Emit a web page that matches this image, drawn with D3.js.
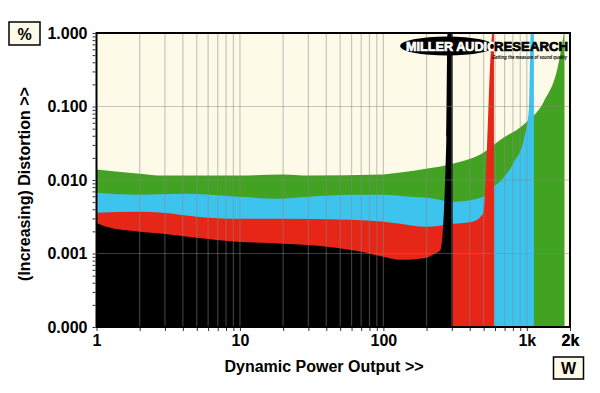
<!DOCTYPE html>
<html>
<head>
<meta charset="utf-8">
<script src="https://cdn.jsdelivr.net/npm/d3@7"></script>
<style>
  body { margin: 0; background: #fff; }
  svg { display: block; font-family: "Liberation Sans", Arial, sans-serif; font-weight: bold; }
</style>
</head>
<body>
<svg id="chart"></svg>
<script>
// distortion vs dynamic power, one filled band per load

const greenW = [1, 2, 2.9, 9.8, 20, 30, 100, 131, 203, 309, 500, 658, 953, 1315, 1648, 1786, 1818, 1830]
const greenV = [0.0139, 0.0122, 0.0115, 0.0115, 0.0119, 0.0115, 0.0119, 0.0126, 0.0143, 0.0168, 0.0237, 0.0356, 0.057, 0.117, 0.353, 0.82, 1.0, 1.0]

const cyanW = [1, 2, 4, 9.8, 18, 30, 59, 100, 154, 203, 309, 500, 588, 658, 811, 953, 1033, 1066, 1120]
const cyanV = [0.00673, 0.00632, 0.00652, 0.00594, 0.00557, 0.00594, 0.00632, 0.00632, 0.00594, 0.00575, 0.00507, 0.00594, 0.0081, 0.0098, 0.0173, 0.0356, 0.091, 1.0, 1.0]

const redW = [1, 2, 2.9, 5, 8.5, 20, 59, 100, 131, 197, 309, 419, 500, 578, 590]
const redV = [0.00359, 0.0037, 0.00359, 0.00316, 0.00297, 0.00297, 0.00288, 0.00271, 0.00254, 0.00231, 0.00254, 0.00271, 0.00359, 1.0, 1.0]

const blackW = [1, 1.17, 2, 2.9, 5, 9.5, 20, 42, 72, 100, 131, 197, 224, 250, 275, 280, 304]
const blackV = [0.00263, 0.00231, 0.00198, 0.00186, 0.00164, 0.00145, 0.00136, 0.00123, 0.00105, 0.0009, 0.00082, 0.00087, 0.00098, 0.00112, 0.0385, 1.0, 1.0]

const seriesColors = ["#41a321", "#3cc4ef", "#e62617", "#000000"]

const yMajor = [0.0001, 0.001, 0.01, 0.1, 1]
const yLabels = ["0.000", "0.001", "0.010", "0.100", "1.000"]
const xMajor = [1, 10, 100, 1000, 2000]
const xLabels = ["1", "10", "100", "1k", "2k"]

const width = 600, height = 393
const margin = {top: 33, right: 30, bottom: 66, left: 96}

const series = [
  {name: "green", w: greenW, v: greenV},
  {name: "cyan", w: cyanW, v: cyanV},
  {name: "red", w: redW, v: redV},
  {name: "black", w: blackW, v: blackV}
].map((s, i) => ({name: s.name, color: seriesColors[i], pts: s.w.map((w, j) => [w, s.v[j]])}))

const x = d3.scaleLog().domain([1, 2000]).range([margin.left + 0.5, width - margin.right])
const y = d3.scaleLog().domain([0.0001, 1]).range([height - margin.bottom, margin.top])

// minor positions 2..9 in each decade
let xTicks = []
;[1, 10, 100, 1000].forEach(d => { for (let k = 1; k <= 9; k++) if (d * k <= 2000) xTicks.push(d * k) })
xTicks.push(2000)
let yTicks = []
;[0.0001, 0.001, 0.01, 0.1].forEach(d => { for (let k = 1; k <= 9; k++) yTicks.push(d * k) })
yTicks.push(1)

const svg = d3.select("#chart").attr("width", width).attr("height", height)

svg.append("defs").append("clipPath").attr("id", "plotclip")
  .append("rect")
  .attr("x", x.range()[0]).attr("y", y.range()[1])
  .attr("width", x.range()[1] - x.range()[0])
  .attr("height", y.range()[0] - y.range()[1])

svg.append("rect")
  .attr("x", x.range()[0]).attr("y", y.range()[1])
  .attr("width", x.range()[1] - x.range()[0])
  .attr("height", y.range()[0] - y.range()[1])
  .attr("fill", "#fdfae8")

const area = d3.area()
  .curve(d3.curveMonotoneX)
  .x(d => x(d[0]))
  .y0(y(0.0001))
  .y1(d => y(d[1]))

svg.append("g")
  .attr("clip-path", "url(#plotclip)")
  .selectAll("path")
  .data(series)
  .join("path")
    .attr("fill", d => d.color)
    .attr("d", d => area(d.pts))

// grid on top of the bands, see-through
const grid = svg.append("g").attr("stroke", "rgba(135,135,135,0.45)").attr("stroke-width", 1.2)
grid.selectAll("line.vx")
  .data(xTicks.filter(d => d > 1 && d < 2000))
  .join("line")
    .attr("x1", d => x(d)).attr("x2", d => x(d))
    .attr("y1", y.range()[1]).attr("y2", y.range()[0])
grid.selectAll("line.hy")
  .data(yMajor.slice(1, -1))
  .join("line")
    .attr("x1", x.range()[0]).attr("x2", x.range()[1])
    .attr("y1", d => y(d)).attr("y2", d => y(d))

// logo
const logo = svg.append("g").attr("font-weight", 900)
logo.append("ellipse").attr("cx", 447).attr("cy", 46).attr("rx", 47).attr("ry", 9.5).attr("fill", "#000")
logo.append("text").attr("x", 406).attr("y", 51).attr("fill", "#fff").attr("font-size", 13)
  .attr("stroke", "#fff").attr("stroke-width", 0.7)
  .attr("textLength", 91).attr("lengthAdjust", "spacingAndGlyphs").text("MILLER AUDIO")
logo.append("text").attr("x", 494).attr("y", 51).attr("fill", "#000").attr("font-size", 13)
  .attr("stroke", "#000").attr("stroke-width", 0.7)
  .attr("textLength", 74).attr("lengthAdjust", "spacingAndGlyphs").text("RESEARCH")
logo.append("text").attr("x", 492).attr("y", 58.5).attr("fill", "#000").attr("font-size", 6)
  .attr("font-style", "italic")
  .attr("textLength", 75).attr("lengthAdjust", "spacingAndGlyphs").text("Getting the measure of sound quality")

// frame
svg.append("rect")
  .attr("x", x.range()[0]).attr("y", y.range()[1])
  .attr("width", x.range()[1] - x.range()[0])
  .attr("height", y.range()[0] - y.range()[1])
  .attr("fill", "none").attr("stroke", "#000").attr("stroke-width", 2)

const yAxis = g => g
  .attr("transform", `translate(${x.range()[0] - 1},0)`)
  .call(d3.axisLeft(y).tickValues(yTicks).tickSize(3).tickPadding(5)
    .tickFormat(d => { const i = yMajor.findIndex(m => Math.abs(m - d) / m < 1e-6); return i < 0 ? "" : yLabels[i] }))
  .call(g => g.select(".domain").remove())
  .call(g => g.selectAll(".tick line").attr("stroke", "#333"))
  .call(g => g.selectAll(".tick text").attr("font-size", 16).attr("font-weight", "bold").attr("fill", "#000")
      .attr("font-family", "'Liberation Sans', Arial, sans-serif"))

const xAxis = g => g
  .attr("transform", `translate(0,${y.range()[0] + 1})`)
  .call(d3.axisBottom(x).tickValues(xTicks).tickSize(3).tickPadding(4)
    .tickFormat(d => { const i = xMajor.indexOf(d); return i < 0 ? "" : xLabels[i] }))
  .call(g => g.select(".domain").remove())
  .call(g => g.selectAll(".tick line").attr("stroke", "#333"))
  .call(g => g.selectAll(".tick text").attr("font-size", 16).attr("font-weight", "bold").attr("fill", "#000")
      .attr("font-family", "'Liberation Sans', Arial, sans-serif"))

svg.append("g").call(yAxis)
svg.append("g").call(xAxis)

// axis titles
svg.append("text")
  .attr("transform", "translate(30,184) rotate(-90)")
  .attr("text-anchor", "middle").attr("font-size", 16)
  .text("(Increasing) Distortion >>")
svg.append("text")
  .attr("x", 324).attr("y", 372)
  .attr("text-anchor", "middle").attr("font-size", 16)
  .text("Dynamic Power Output >>")

// unit boxes
function unitBox(bx, by, bw, bh, label) {
  svg.append("rect").attr("x", bx).attr("y", by).attr("width", bw).attr("height", bh)
    .attr("fill", "#fdfae8").attr("stroke", "#000").attr("stroke-width", 1.5)
  svg.append("text").attr("x", bx + bw / 2).attr("y", by + bh / 2 + 6)
    .attr("text-anchor", "middle").attr("font-size", 16).text(label)
}
unitBox(9, 22, 31, 23, "%")
unitBox(553.5, 357, 30, 22, "W")
</script>
</body>
</html>
